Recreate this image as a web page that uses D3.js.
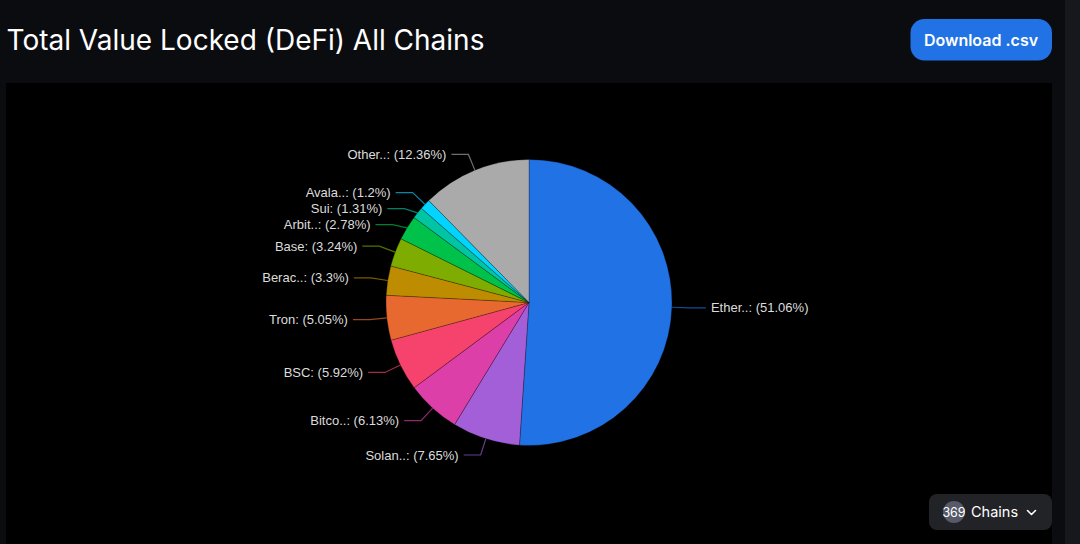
<!DOCTYPE html>
<html>
<head>
<meta charset="utf-8">
<title>Total Value Locked (DeFi) All Chains</title>
<script src="https://d3js.org/d3.v7.min.js"></script>
<style>
html, body { margin: 0; padding: 0; background: #0b0c0f; overflow: hidden; }
svg { display: block; }
</style>
</head>
<body>
<div id="chart"></div>
<script>
// values, clockwise from 12 o'clock
var names = ["Ether..", "Solan..", "Bitco..", "BSC", "Tron", "Berac..", "Base", "Arbit..", "Sui", "Avala..", "Other.."];
var shares = [51.06, 7.65, 6.13, 5.92, 5.05, 3.3, 3.24, 2.78, 1.31, 1.2, 12.36];
var colors = ["#2172e5", "#a25fd8", "#dd3fa8", "#f5436e", "#e8692f", "#bd8c00", "#7fac00", "#00c24b", "#00c4a2", "#00d4ff", "#aaaaaa"];
var chainCount = "369";

var width = 1080, height = 544;
var cx = 529, cy = 302.5, radius = 143;
var bend = 17, run = 17, gap = 5, minSpacing = 16;

var svg = d3.select("#chart").append("svg").attr("width", width).attr("height", height);

// page furniture
svg.append("rect").attr("width", width).attr("height", height).attr("fill", "#0b0c0f");
svg.append("rect").attr("x", 1065).attr("width", 15).attr("height", height).attr("fill", "#17181b");
svg.append("rect").attr("x", 6).attr("y", 83).attr("width", 1046).attr("height", 461).attr("fill", "#000");

svg.append("text").attr("x", 6.5).attr("y", 50)
	.attr("font-family", "Inter").attr("font-size", 28).attr("fill", "#fff")
	.text("Total Value Locked (DeFi) All Chains");

svg.append("rect").attr("x", 910.5).attr("y", 19).attr("width", 141.5).attr("height", 41.5).attr("rx", 14)
	.attr("fill", "#2172e5");
svg.append("text").attr("x", 981).attr("y", 45.5).attr("text-anchor", "middle")
	.attr("font-family", "Inter").attr("font-size", 16).attr("font-weight", 600).attr("fill", "#fff")
	.text("Download .csv");

// pie
var pie = d3.pie().sort(null).value(function(d){ return d; });
var arc = d3.arc().innerRadius(0).outerRadius(radius);
var arcs = pie(shares);

var g = svg.append("g").attr("transform", "translate(" + cx + "," + cy + ")");
g.selectAll("path.slice")
	.data(arcs)
	.enter()
	.append("path")
	.attr("class", "slice")
	.attr("d", arc)
	.attr("fill", function(d){ return colors[d.index]; })
	.attr("stroke", "#000")
	.attr("stroke-opacity", 0.25)
	.attr("stroke-width", 1);

// label layout: natural position on a wider circle, then push apart on each side
var labels = arcs.map(function(d){
	var a = (d.startAngle + d.endAngle) / 2;
	return {
		i: d.index,
		side: Math.sin(a) >= 0 ? 1 : -1,
		edge: [radius * Math.sin(a), -radius * Math.cos(a)],
		bx: (radius + bend) * Math.sin(a),
		by: -(radius + bend) * Math.cos(a)
	};
});
[1, -1].forEach(function(side){
	var prev = null;
	labels.filter(function(l){ return l.side === side; })
		.sort(function(a, b){ return a.by - b.by; })
		.forEach(function(l){
			if(prev !== null && l.by < prev + minSpacing){ l.by = prev + minSpacing; }
			prev = l.by;
		});
});

var line = d3.line();
g.selectAll("path.connector")
	.data(labels)
	.enter()
	.append("path")
	.attr("class", "connector")
	.attr("d", function(l){
		return line([l.edge, [l.bx, l.by], [l.bx + l.side * run, l.by]]);
	})
	.attr("fill", "none")
	.attr("stroke", function(l){ return colors[l.i]; })
	.attr("stroke-opacity", 0.65)
	.attr("stroke-width", 1.2);

g.selectAll("text.label")
	.data(labels)
	.enter()
	.append("text")
	.attr("class", "label")
	.attr("x", function(l){ return l.bx + l.side * (run + gap); })
	.attr("y", function(l){ return l.by + 4.5; })
	.attr("text-anchor", function(l){ return l.side > 0 ? "start" : "end"; })
	.attr("font-family", "Liberation Sans")
	.attr("font-size", 13)
	.attr("fill", "#dcdcdc")
	.text(function(l){ return names[l.i] + ": (" + shares[l.i] + "%)"; });

// chains selector
svg.append("rect").attr("x", 929).attr("y", 494).attr("width", 123).attr("height", 36).attr("rx", 8)
	.attr("fill", "#222327");
svg.append("circle").attr("cx", 954).attr("cy", 512).attr("r", 11).attr("fill", "#565a69");
svg.append("text").attr("x", 954).attr("y", 516.5).attr("text-anchor", "middle")
	.attr("font-family", "Inter").attr("font-size", 12.5).attr("fill", "#fff")
	.text(chainCount);
svg.append("text").attr("x", 971).attr("y", 517)
	.attr("font-family", "Inter").attr("font-size", 14.5).attr("fill", "#fff")
	.text("Chains");
svg.append("path").attr("d", "M1027.5 510.5L1031.5 514.5L1035.5 510.5")
	.attr("fill", "none").attr("stroke", "#fff").attr("stroke-width", 1.6)
	.attr("stroke-linecap", "round").attr("stroke-linejoin", "round");
</script>
</body>
</html>
